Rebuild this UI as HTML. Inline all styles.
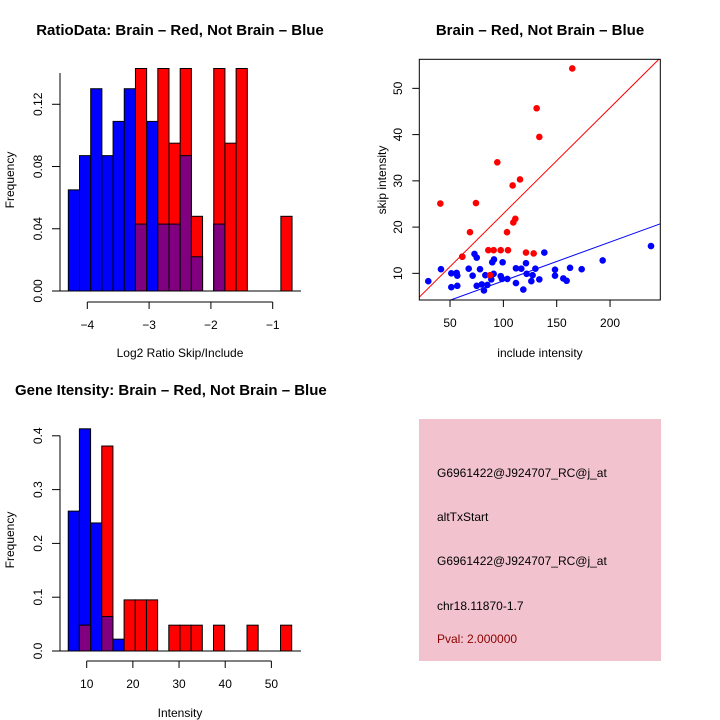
<!DOCTYPE html>
<html><head><meta charset="utf-8">
<style>
html,body{margin:0;padding:0;background:#fff;}
svg{display:block;font-family:"Liberation Sans",sans-serif;}
</style></head>
<body>
<svg id="chart" width="720" height="720" viewBox="0 0 720 720" xmlns="http://www.w3.org/2000/svg">
<rect width="720" height="720" fill="#fff"/>
<text x="180" y="35" text-anchor="middle" font-size="15" font-weight="bold">RatioData: Brain – Red, Not Brain – Blue</text>
<text x="540" y="35" text-anchor="middle" font-size="15" font-weight="bold">Brain – Red, Not Brain – Blue</text>
<text x="15" y="395" font-size="15" font-weight="bold">Gene Itensity: Brain – Red, Not Brain – Blue</text>
<text x="180" y="357" text-anchor="middle" font-size="12">Log2 Ratio Skip/Include</text>
<text transform="translate(14,180) rotate(-90)" text-anchor="middle" font-size="12">Frequency</text>
<text x="540" y="357" text-anchor="middle" font-size="12">include intensity</text>
<text transform="translate(386,180) rotate(-90)" text-anchor="middle" font-size="12">skip intensity</text>
<text x="180" y="717" text-anchor="middle" font-size="12">Intensity</text>
<text transform="translate(14,540) rotate(-90)" text-anchor="middle" font-size="12">Frequency</text>
<g>
<rect x="419" y="419" width="242" height="242" fill="#f2c3ce"/>
<text x="437" y="477" font-size="12">G6961422@J924707_RC@j_at</text>
<text x="437" y="521" font-size="12">altTxStart</text>
<text x="437" y="565" font-size="12">G6961422@J924707_RC@j_at</text>
<text x="437" y="610" font-size="12">chr18.11870-1.7</text>
<text x="437" y="643" font-size="12" fill="#8b0000">Pval: 2.000000</text>
</g>
<g id="g1"></g>
<g id="g2"></g>
<g id="g3"></g>
</svg>
<script>
// Ratio histogram data
const ratioBinStart = -4.307;
const ratioBinWidth = 0.181;
const ratioBlue = [0.065,0.087,0.13,0.087,0.109,0.13,0.043,0.109,0.043,0.043,0.087,0.022,0,0.043,0,0,0,0,0,0];
const ratioRed  = [0,0,0,0,0,0,0.143,0,0.143,0.095,0.143,0.048,0,0.143,0.095,0.143,0,0,0,0.048];
const ratioXTicks = [-4,-3,-2,-1];
const ratioYTicks = [0,0.04,0.08,0.12];
const ratioYLabels = ["0.00","0.04","0.08","0.12"];

// Scatter data
const redX = [164.6,131.2,133.7,94.3,115.6,108.7,40.9,74.3,111.2,109.3,68.7,103.4,85.9,90.9,97.5,104.3,121.2,128.4,61.5,87.5];
const redY = [54.3,45.7,39.5,34.0,30.3,29.0,25.1,25.2,21.8,21.0,18.9,18.9,15.0,15.0,15.0,15.0,14.5,14.3,13.6,9.6];
const blueX = [29.6,41.5,51.2,56.2,56.8,51.2,56.8,61.5,67.5,71.2,72.9,75.0,78.1,75.0,79.7,81.8,83.1,85.0,88.7,89.6,91.2,90.9,97.5,98.7,99.3,103.7,111.8,111.8,116.8,118.7,121.2,121.8,126.2,127.4,130.0,133.7,138.4,148.4,148.4,156.2,159.3,162.5,173.4,193.1,238.4];
const blueY = [8.3,10.9,10.0,10.1,9.5,7.0,7.3,13.6,11.0,9.5,14.2,13.4,10.9,7.3,7.6,6.3,9.6,7.5,8.7,12.4,13.0,9.9,9.4,8.8,12.4,8.8,11.1,7.9,11.0,6.5,12.2,9.9,8.3,9.6,11.0,8.7,14.5,10.8,9.5,8.9,8.4,11.2,10.9,12.8,15.9];
const redSlope = 0.229;
const blueSlope = 0.0838;
const scatterXTicks = [50,100,150,200];
const scatterYTicks = [10,20,30,40,50];

// Intensity histogram data
const intBinStart = 6.0;
const intBinWidth = 2.42;
const intBlue = [0.26,0.413,0.238,0.064,0.022,0,0,0,0,0,0,0,0,0,0,0,0,0,0,0];
const intRed  = [0,0.048,0,0.381,0,0.095,0.095,0.095,0,0.048,0.048,0.048,0,0.048,0,0,0.048,0,0,0.048];
const intXTicks = [10,20,30,40,50];
const intYTicks = [0,0.1,0.2,0.3,0.4];
const intYLabels = ["0.0","0.1","0.2","0.3","0.4"];

const NS = "http://www.w3.org/2000/svg";
function mk(parent, tag, attrs, text){
  const e = document.createElementNS(NS, tag);
  for (const k in attrs) e.setAttribute(k, attrs[k]);
  if (text !== undefined) e.textContent = text;
  parent.appendChild(e);
  return e;
}

function hist(g, binStart, binW, blue, red, xTicks, yTicks, yLabels, sx, sy, x0, x1, yAxisTop, xAxisY, prefix){
  const base = sy(0);
  for (let i = 0; i < blue.length; i++){
    const a = sx(binStart + i*binW), b = sx(binStart + (i+1)*binW);
    if (blue[i] > 0){
      const r = mk(g,'rect',{x:a,y:sy(blue[i]),width:b-a,height:base-sy(blue[i]),fill:'#0000ff',stroke:'#000','stroke-width':1});
      
      
    }
  }
  for (let i = 0; i < red.length; i++){
    const a = sx(binStart + i*binW), b = sx(binStart + (i+1)*binW);
    if (red[i] > 0){
      const r = mk(g,'rect',{x:a,y:sy(red[i]),width:b-a,height:base-sy(red[i]),fill:'#ff0000',stroke:'#000','stroke-width':1});
      
      
      if (blue[i] > 0){
        const m = Math.min(blue[i], red[i]);
        const p = mk(g,'rect',{x:a,y:sy(m),width:b-a,height:base-sy(m),fill:'#800080',stroke:'#000','stroke-width':1});
        
        
      }
    }
  }
  const bl = mk(g,'line',{x1:x0,x2:x1,y1:base,y2:base,stroke:'#000','stroke-width':1});
  
  
  const ya = mk(g,'line',{x1:60,x2:60,y1:yAxisTop,y2:base,stroke:'#000','stroke-width':1});
  
  
  yTicks.forEach((t,i)=>{
    const y = sy(t);
    mk(g,'line',{x1:52,x2:60,y1:y,y2:y,stroke:'#000'});
    const tl = mk(g,'text',{transform:`translate(42,${y}) rotate(-90)`,'text-anchor':'middle','font-size':12}, yLabels[i]);
    
    
  });
  const xa = mk(g,'line',{x1:sx(xTicks[0]),x2:sx(xTicks[xTicks.length-1]),y1:xAxisY,y2:xAxisY,stroke:'#000'});
  
  
  xTicks.forEach(t=>{
    const x = sx(t);
    mk(g,'line',{x1:x,x2:x,y1:xAxisY,y2:xAxisY+7,stroke:'#000'});
    const tl = mk(g,'text',{x:x,y:xAxisY+27,'text-anchor':'middle','font-size':12}, String(t).replace('-','−'));
    
    
  });
}

(function(){
  const g = document.getElementById('g1');
  const sx = v => 87.3 + (v - (-4)) * 61.8;
  const sy = v => 291 - v * 1556;
  hist(g, ratioBinStart, ratioBinWidth, ratioBlue, ratioRed, ratioXTicks, ratioYTicks, ratioYLabels, sx, sy, 52, 301, 73, 302, 'ratio');
})();

(function(){
  const g = document.getElementById('g3');
  const sx = v => 86.7 + (v - 10) * 4.617;
  const sy = v => 651 - v * 538;
  hist(g, intBinStart, intBinWidth, intBlue, intRed, intXTicks, intYTicks, intYLabels, sx, sy, 52, 301, 435.7, 661, 'intensity');
})();

(function(){
  const g = document.getElementById('g2');
  const L=419.3, R=660.3, T=59.3, B=300;
  const sx = v => 396.7 + v * 1.0667;
  const sy = v => 319.6 - v * 4.625;
  const clip = mk(g,'clipPath',{id:'sc'});
  mk(clip,'rect',{x:L,y:T,width:R-L,height:B-T});
  const pts = mk(g,'g',{'clip-path':'url(#sc)'});
  const xmin = (L-396.7)/1.0667, xmax = (R-396.7)/1.0667;
  blueX.forEach((x,i)=>{
    const c = mk(pts,'circle',{cx:sx(x),cy:sy(blueY[i]),r:3.3,fill:'#0000ff'});
    
    
  });
  redX.forEach((x,i)=>{
    const c = mk(pts,'circle',{cx:sx(x),cy:sy(redY[i]),r:3.3,fill:'#ff0000'});
    
    
  });
  const rl = mk(pts,'line',{x1:sx(xmin),y1:sy(redSlope*xmin),x2:sx(xmax),y2:sy(redSlope*xmax),stroke:'#ff0000','stroke-width':1});
  
  
  const bl = mk(pts,'line',{x1:sx(xmin),y1:sy(blueSlope*xmin),x2:sx(xmax),y2:sy(blueSlope*xmax),stroke:'#0000ff','stroke-width':1});
  
  
  const box = mk(g,'rect',{x:L,y:T,width:R-L,height:B-T,fill:'none',stroke:'#000','stroke-width':1});
  
  
  scatterXTicks.forEach(t=>{
    const x = sx(t);
    mk(g,'line',{x1:x,x2:x,y1:B,y2:B+7,stroke:'#000'});
    const tl = mk(g,'text',{x:x,y:B+27,'text-anchor':'middle','font-size':12}, String(t));
    
    
  });
  scatterYTicks.forEach(t=>{
    const y = sy(t);
    mk(g,'line',{x1:L-7,x2:L,y1:y,y2:y,stroke:'#000'});
    const tl = mk(g,'text',{transform:`translate(402,${y}) rotate(-90)`,'text-anchor':'middle','font-size':12}, String(t));
    
    
  });
})();
</script>
</body></html>
